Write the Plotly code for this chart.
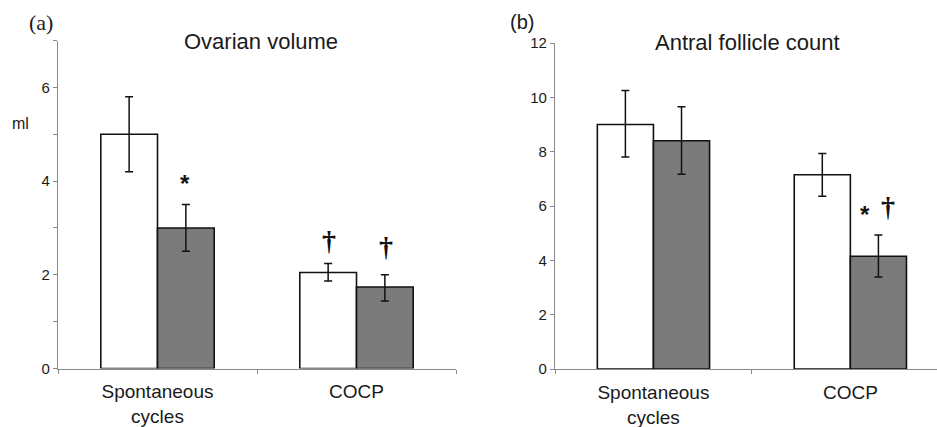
import plotly.graph_objects as go

W, H = 937, 427

categories = ["Spontaneous<br>cycles", "COCP"]

# Panel (a) Ovarian volume (ml)
vol_white = [5.0, 2.05]
vol_white_hi = [5.8, 2.24]
vol_white_lo = [4.2, 1.87]
vol_grey = [3.0, 1.74]
vol_grey_hi = [3.5, 2.0]
vol_grey_lo = [2.5, 1.44]

# Panel (b) Antral follicle count
afc_white = [9.0, 7.15]
afc_white_hi = [10.25, 7.93]
afc_white_lo = [7.8, 6.36]
afc_grey = [8.4, 4.15]
afc_grey_hi = [9.65, 4.93]
afc_grey_lo = [7.17, 3.39]

a_ticks = [0, 1, 2, 3, 4, 5, 6, 7]
a_ticktext = ["0", "", "2", "", "4", "", "6", ""]
b_ticks = [0, 2, 4, 6, 8, 10, 12]

GREY = "#7b7b7b"
FONT = "Liberation Sans, Arial, sans-serif"
TXT = "#1a1a1a"


def err(vals, hi, lo):
    return dict(type="data", symmetric=False,
                array=[h - v for h, v in zip(hi, vals)],
                arrayminus=[v - l for v, l in zip(vals, lo)],
                color="#111111", thickness=1.5, width=4)


fig = go.Figure()
fig.add_trace(go.Bar(x=categories, y=vol_white, marker=dict(color="white", line=dict(color="#111", width=1.6)),
                     error_y=err(vol_white, vol_white_hi, vol_white_lo), xaxis="x", yaxis="y", showlegend=False))
fig.add_trace(go.Bar(x=categories, y=vol_grey, marker=dict(color=GREY, line=dict(color="#111", width=1.6)),
                     error_y=err(vol_grey, vol_grey_hi, vol_grey_lo), xaxis="x", yaxis="y", showlegend=False))
fig.add_trace(go.Bar(x=categories, y=afc_white, marker=dict(color="white", line=dict(color="#111", width=1.6)),
                     error_y=err(afc_white, afc_white_hi, afc_white_lo), xaxis="x2", yaxis="y2", showlegend=False))
fig.add_trace(go.Bar(x=categories, y=afc_grey, marker=dict(color=GREY, line=dict(color="#111", width=1.6)),
                     error_y=err(afc_grey, afc_grey_hi, afc_grey_lo), xaxis="x2", yaxis="y2", showlegend=False))

axis_common = dict(showline=True, linecolor="#8a8a8a", linewidth=1.2, showgrid=False, zeroline=False,
                   ticks="outside", tickcolor="#8a8a8a", ticklen=4, tickwidth=1, automargin=False,
                   tickfont=dict(family=FONT, size=15, color=TXT))
xcommon = dict(axis_common, type="category", tickson="boundaries", ticklabelstandoff=6,
               tickfont=dict(family=FONT, size=19, color=TXT))

fig.update_layout(
    width=W, height=H, margin=dict(l=0, r=0, t=0, b=0, autoexpand=False),
    paper_bgcolor="white", plot_bgcolor="white",
    barmode="group", bargap=0.43, bargroupgap=0,
    xaxis=dict(xcommon, domain=[58 / W, 456 / W], range=[-0.5, 1.5], anchor="y"),
    yaxis=dict(axis_common, domain=[(H - 368.5) / H, (H - 40.5) / H], range=[0, 7],
               tickvals=a_ticks, ticktext=a_ticktext, anchor="x"),
    xaxis2=dict(xcommon, domain=[555 / W, 1.0], range=[-0.5, 1.44], anchor="y2"),
    yaxis2=dict(axis_common, domain=[(H - 369) / H, (H - 43) / H], range=[0, 12],
                tickvals=b_ticks, anchor="x2"),
)


def ptext(text, px, py, size, family=FONT):
    fig.add_annotation(text=text, x=px / W, y=1 - py / H, xref="paper", yref="paper",
                       showarrow=False, xanchor="center", yanchor="middle",
                       font=dict(family=family, size=size, color=TXT))


ptext("(a)", 41, 23, 22, "Liberation Serif, Times New Roman, serif")
ptext("(b)", 522, 22, 20)
ptext("Ovarian volume", 261, 41, 22)
ptext("Antral follicle count", 747, 42, 22)
ptext("ml", 20, 123, 16)


def dtext(text, x, y, xref, yref, size, family=FONT):
    fig.add_annotation(text=text, x=x, y=y, xref=xref, yref=yref, showarrow=False,
                       xanchor="center", yanchor="middle",
                       font=dict(family=family, size=size, color="#111"))


SERIF = "Liberation Serif, serif"
dtext("<b>*</b>", 0.14, 3.95, "x", "y", 24)
dtext("<b>†</b>", 0.86, 2.74, "x", "y", 28, SERIF)
dtext("<b>†</b>", 1.146, 2.6, "x", "y", 28, SERIF)
dtext("<b>*</b>", 1.076, 5.7, "x2", "y2", 24)
dtext("<b>†</b>", 1.19, 6.0, "x2", "y2", 28, SERIF)

fig.write_html("out.html", config={"displayModeBar": False},
               post_script="document.body.style.margin='0';document.body.style.overflow='hidden';")
